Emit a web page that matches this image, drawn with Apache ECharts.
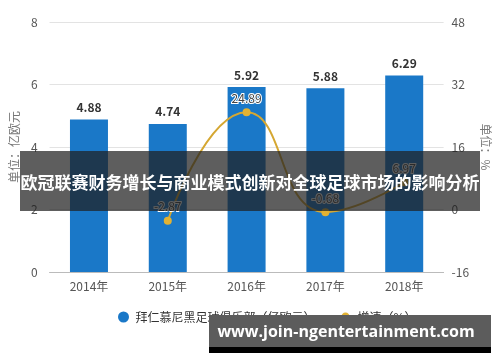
<!DOCTYPE html>
<html><head><meta charset="utf-8">
<script src="https://cdn.jsdelivr.net/npm/echarts@6/dist/echarts.min.js"></script>
<style>html,body{margin:0;padding:0;background:#fff}#c{width:500px;height:362px}</style>
</head><body><div id="c"></div>
<script>
var categories = ['2014年','2015年','2016年','2017年','2018年'];
var revenue = [4.88, 4.74, 5.92, 5.88, 6.29];
var growth = [null, -2.87, 24.89, -0.68, 6.97];
var seriesNames = ['拜仁慕尼黑足球俱乐部（亿欧元）', '增速（%）'];
var titleText = '欧冠联赛财务增长与商业模式创新对全球足球市场的影响分析';
var urlText = 'www.join-ngentertainment.com';

var font = '"Noto Sans CJK SC", "Noto Sans", sans-serif';
var chart = echarts.init(document.getElementById('c'));
chart.setOption({
  animation: false,
  textStyle: {fontFamily: font},
  grid: {left: 45, right: 49, top: 22, bottom: 90},
  legend: {
    top: 306, left: 113, itemWidth: 14, itemHeight: 11, itemGap: 22,
    textStyle: {fontSize: 12, color: '#333', fontFamily: font},
    data: [{name: seriesNames[0], icon: 'circle'}, {name: seriesNames[1]}]
  },
  xAxis: {
    type: 'category', data: categories,
    axisLine: {lineStyle: {color: '#bbb'}},
    axisTick: {alignWithLabel: true, lineStyle: {color: '#bbb'}},
    axisLabel: {color: '#555', fontSize: 12, margin: 8}
  },
  yAxis: [{
    type: 'value', min: 0, max: 8, interval: 2,
    name: '单位：亿欧元', nameLocation: 'middle', nameRotate: 90, nameGap: 28,
    nameTextStyle: {color: '#777', fontSize: 12},
    axisLine: {show: false}, axisTick: {show: false},
    axisLabel: {color: '#555', fontSize: 12, margin: 12},
    splitLine: {lineStyle: {color: '#e3e3e3'}}
  }, {
    type: 'value', min: -16, max: 48, interval: 16,
    name: '单位：%', nameLocation: 'middle', nameRotate: -90, nameGap: 34,
    nameTextStyle: {color: '#777', fontSize: 12},
    axisLine: {show: false}, axisTick: {show: false},
    axisLabel: {color: '#555', fontSize: 12, margin: 8},
    splitLine: {show: false}
  }],
  series: [{
    name: seriesNames[0], type: 'bar', data: revenue, barWidth: 38,
    itemStyle: {color: '#1a78c8'},
    label: {show: true, position: 'top', color: '#333', fontSize: 12, fontWeight: 'bold', distance: 6}
  }, {
    name: seriesNames[1], type: 'line', yAxisIndex: 1, data: growth, smooth: true,
    symbol: 'circle', symbolSize: 8,
    itemStyle: {color: '#e2b233'}, lineStyle: {color: '#d5a732', width: 2},
    label: {show: true, position: 'top', color: '#444', fontSize: 12,
      textBorderColor: '#fff', textBorderWidth: 2, distance: 4}
  }],
  graphic: [
    {type: 'rect', shape: {x: 20, y: 151, width: 460, height: 60}, style: {fill: 'rgba(32,32,32,0.72)'}, z: 100},
    {type: 'text', x: 250, y: 183, style: {text: titleText, fill: '#fff', fontSize: 17, fontWeight: 'bold', fontFamily: font, textAlign: 'center', textVerticalAlign: 'middle'}, z: 101},
    {type: 'rect', shape: {x: 209, y: 315, width: 282, height: 33}, style: {fill: '#5c5c5c'}, z: 100},
    {type: 'rect', shape: {x: 209, y: 347, width: 282, height: 6}, style: {fill: '#000'}, z: 100},
    {type: 'text', x: 346, y: 332, style: {text: urlText, fill: '#fff', fontSize: 16, fontWeight: 'bold', fontFamily: '"Open Sans", sans-serif', textAlign: 'center', textVerticalAlign: 'middle'}, z: 101}
  ]
});
</script></body></html>
